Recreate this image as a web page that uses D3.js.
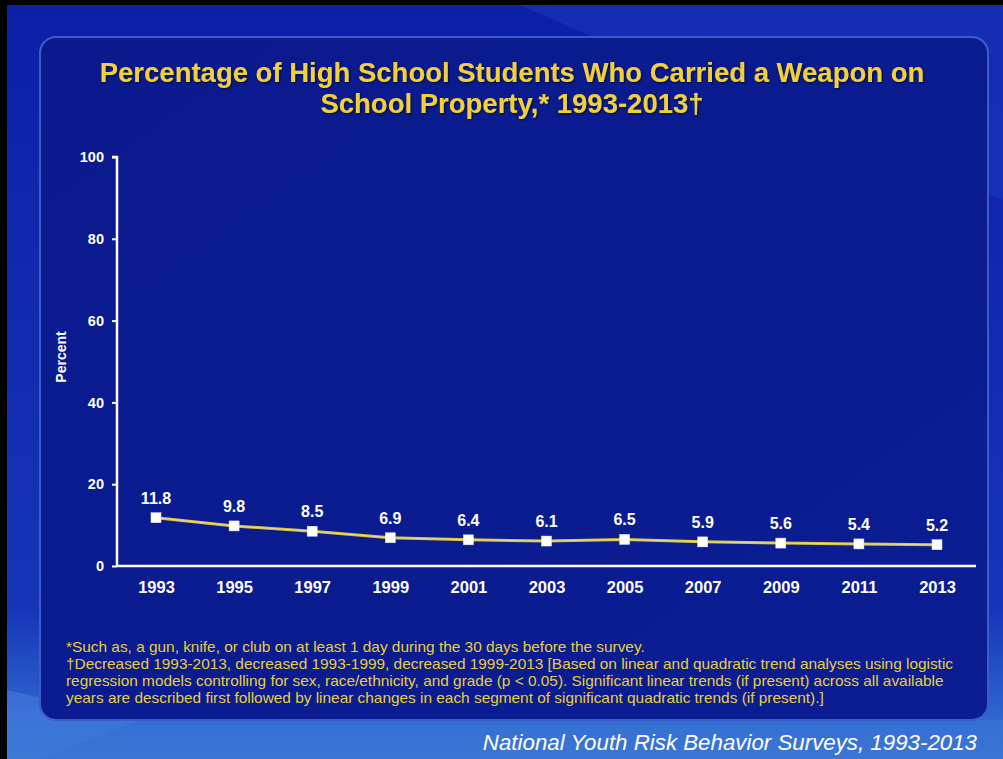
<!DOCTYPE html>
<html><head><meta charset="utf-8">
<script src="https://cdn.jsdelivr.net/npm/d3@7"></script>
<style>html,body{margin:0;padding:0;background:#000;}svg{display:block;}</style>
</head><body>
<svg id="c" width="1003" height="759"></svg>
<script>
const years = ["1993","1995","1997","1999","2001","2003","2005","2007","2009","2011","2013"];
const percent = [11.8, 9.8, 8.5, 6.9, 6.4, 6.1, 6.5, 5.9, 5.6, 5.4, 5.2];
const yTicks = [0, 20, 40, 60, 80, 100];
const titleLines = ["Percentage of High School Students Who Carried a Weapon on", "School Property,* 1993-2013\u2020"];
const footnotes = [
  "*Such as, a gun, knife, or club on at least 1 day during the 30 days before the survey.",
  "\u2020Decreased 1993-2013, decreased 1993-1999, decreased 1999-2013 [Based on linear and quadratic trend analyses using logistic",
  "regression models controlling for sex, race/ethnicity, and grade (p < 0.05). Significant linear trends (if present) across all available",
  "years are described first followed by linear changes in each segment of significant quadratic trends (if present).]"
];
const source = "National Youth Risk Behavior Surveys, 1993-2013";
const FONT = "Liberation Sans, Arial, sans-serif";

const svg = d3.select("#c");
const defs = svg.append("defs");
const bg = defs.append("linearGradient").attr("id","bg").attr("x1",0).attr("y1",0).attr("x2",0).attr("y2",1);
bg.append("stop").attr("offset","0%").attr("stop-color","#0c1fa8");
bg.append("stop").attr("offset","80%").attr("stop-color","#1535b8");
bg.append("stop").attr("offset","100%").attr("stop-color","#3a78d8");
const pg = defs.append("linearGradient").attr("id","pg").attr("x1",0).attr("y1",0).attr("x2",1).attr("y2",1);
pg.append("stop").attr("offset","0%").attr("stop-color","#0a1a8e");
pg.append("stop").attr("offset","100%").attr("stop-color","#0b1d92");
const shadow = defs.append("filter").attr("id","sh").attr("x","-5%").attr("y","-20%").attr("width","110%").attr("height","140%");
shadow.append("feDropShadow").attr("dx",1).attr("dy",1).attr("stdDeviation",1).attr("flood-color","#000").attr("flood-opacity",0.7);

svg.append("rect").attr("x",7).attr("y",5).attr("width",996).attr("height",754).attr("fill","url(#bg)");
svg.append("path").attr("d","M520,5 L1003,5 L1003,200 L600,40 Z").attr("fill","#2a55d0").attr("opacity",0.25);
svg.append("path").attr("d","M7,690 L140,720 L40,759 L7,759 Z").attr("fill","#5a90e8").attr("opacity",0.35);
svg.append("rect").attr("x",7).attr("y",720).attr("width",996).attr("height",39).attr("fill","#3a74d4").attr("opacity",0.6);

svg.append("rect").attr("x",40).attr("y",37).attr("width",948).attr("height",683).attr("rx",16)
  .attr("fill","url(#pg)").attr("stroke","#3a5ccc").attr("stroke-width",2);

// title
svg.append("g").attr("filter","url(#sh)").selectAll("text").data(titleLines).join("text")
  .attr("x",512).attr("y",(d,i)=>82+i*31).attr("text-anchor","middle")
  .attr("font-family",FONT).attr("font-weight","bold").attr("font-size",27.5)
  .attr("fill","#f0d03c").text(d=>d);

const x = d3.scalePoint().domain(years).range([156,937]);
const y = d3.scaleLinear().domain([0,100]).range([566,157]);

const yAxis = svg.append("g").attr("transform","translate(117,0)")
  .call(d3.axisLeft(y).tickValues(yTicks).tickSize(5).tickPadding(8));
yAxis.select(".domain").attr("stroke","#fff").attr("stroke-width",2.5).attr("d","M-5,157H0V566");
yAxis.selectAll(".tick line").attr("stroke","#fff").attr("stroke-width",2);
yAxis.selectAll(".tick text").attr("fill","#fff").attr("font-size",14.5).attr("font-weight","bold")
  .attr("font-family",FONT);

const xAxis = svg.append("g").attr("transform","translate(0,566)")
  .call(d3.axisBottom(x).tickSize(0).tickPadding(15));
xAxis.select(".domain").attr("stroke","#fff").attr("stroke-width",2.5).attr("d","M117,0H976");
xAxis.selectAll(".tick text").attr("fill","#fff").attr("font-size",16.5).attr("font-weight","bold")
  .attr("font-family",FONT);

svg.append("text").attr("transform","translate(66,357) rotate(-90)").attr("text-anchor","middle")
  .attr("fill","#fff").attr("font-size",14).attr("font-weight","bold")
  .attr("font-family",FONT).text("Percent");

const data = years.map((yr,i)=>({yr, v:percent[i]}));
const line = d3.line().x(d=>x(d.yr)).y(d=>y(d.v));
svg.append("path").datum(data).attr("d",line).attr("fill","none").attr("stroke","#d9c240").attr("stroke-width",3);
svg.append("path").datum(data).attr("d",line).attr("fill","none").attr("stroke","#f4ecb0").attr("stroke-width",1).attr("opacity",0.6);
svg.append("g").selectAll("rect").data(data).join("rect")
  .attr("x",d=>x(d.yr)-5).attr("y",d=>y(d.v)-5).attr("width",10).attr("height",10)
  .attr("fill","#fff").attr("stroke","#dfe6ff").attr("stroke-width",0.5);
svg.append("g").selectAll("text").data(data).join("text")
  .attr("x",d=>x(d.yr)).attr("y",d=>y(d.v)-14).attr("text-anchor","middle")
  .attr("fill","#fff").attr("font-size",16).attr("font-weight","bold")
  .attr("font-family",FONT).text(d=>d.v.toFixed(1));

// footnotes
svg.append("g").attr("transform","translate(66,0) scale(1.1,1)").selectAll("text").data(footnotes).join("text")
  .attr("x",0).attr("y",(d,i)=>652+i*17)
  .attr("fill","#e8cf3a").attr("font-size",14)
  .attr("font-family",FONT).text(d=>d);

svg.append("text").attr("x",977).attr("y",750).attr("text-anchor","end")
  .attr("fill","#fff").attr("font-size",22.3).attr("font-style","italic")
  .attr("font-family",FONT).text(source);
</script>
</body></html>
